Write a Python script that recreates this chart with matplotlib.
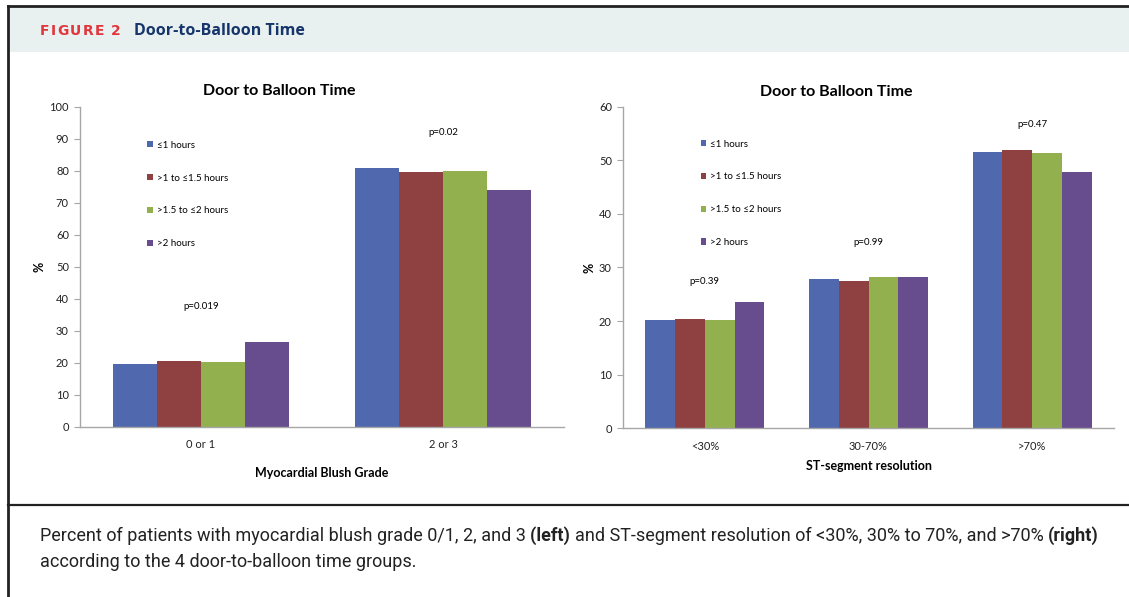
import matplotlib
matplotlib.use("Agg")
import matplotlib.pyplot as plt
import numpy as np
from matplotlib import font_manager
from matplotlib.lines import Line2D
from matplotlib.patches import Rectangle, Patch

plt.rcParams['font.family'] = ['Lato', 'DejaVu Sans']

groups = ['\u22641 hours', '>1 to \u22641.5 hours', '>1.5 to \u22642 hours', '>2 hours']
colors = ['#5068ad', '#8f4141', '#93b04f', '#674c8e']

blush_cats = ['0 or 1', '2 or 3']
blush_vals = [
    [19.6, 80.7],
    [20.5, 79.7],
    [20.1, 79.9],
    [26.5, 73.9],
]
blush_p = ['p=0.019', 'p=0.02']
blush_p_y = [37.4, 92.0]

st_cats = ['<30%', '30-70%', '>70%']
st_vals = [
    [20.2, 27.8, 51.6],
    [20.3, 27.5, 51.9],
    [20.2, 28.2, 51.4],
    [23.6, 28.2, 47.9],
]
st_p = ['p=0.39', 'p=0.99', 'p=0.47']
st_p_y = [27.3, 34.6, 56.6]

W, H = 1129, 597
fig = plt.figure(figsize=(W / 100, H / 100), dpi=100)
fig.patch.set_facecolor('white')
renderer = fig.canvas.get_renderer()


def px(x, y):
    # pixel coords (from top-left) to figure fraction
    return x / W, 1 - y / H


# header band and frame
fig.add_artist(Rectangle(px(8, 52), (W - 8) / W, 46 / H, transform=fig.transFigure,
                         facecolor='#e8f0f0', edgecolor='none', zorder=0))
for (x0, y0), (x1, y1), lw in [((8, 6), (W, 6), 2.0),
                               ((8, 6), (8, H), 2.0),
                               ((8, 505), (W, 505), 1.6)]:
    a, b = px(x0, y0)
    c, d = px(x1, y1)
    fig.add_artist(Line2D([a, c], [b, d], transform=fig.transFigure,
                          color='#222222', lw=lw, zorder=5))

# letter-spaced figure label
x = 40
for ch in 'FIGURE 2':
    if ch == ' ':
        x += 5
        continue
    t = fig.text(*px(x, 31), ch, color='#e2363c', fontsize=10, fontweight='bold',
                 family='DejaVu Sans', va='center', ha='left')
    x += t.get_window_extent(renderer).width + 1.4
fig.text(*px(134, 31), 'Door-to-Balloon Time', color='#16356b', fontsize=11.5,
         fontweight='bold', family=['Open Sans', 'DejaVu Sans'], va='center', ha='left')


def bar_panel(ax, cats, vals, ymax, pvals, p_y, title, title_x, xlabel, xlabelpad,
              leg_anchor):
    n = len(vals)
    x = np.arange(len(cats))
    w = 0.182
    for i, (v, c) in enumerate(zip(vals, colors)):
        ax.bar(x + (i - (n - 1) / 2) * w, v, width=w, color=c, edgecolor='none',
               label=groups[i])
    ax.set_xlim(-0.5, len(cats) - 0.5)
    ax.set_ylim(0, ymax)
    ax.set_yticks(np.arange(0, ymax + 1, 10))
    ax.set_xticks(x)
    ax.set_xticklabels(cats)
    for s in ['top', 'right']:
        ax.spines[s].set_visible(False)
    for s in ['left', 'bottom']:
        ax.spines[s].set_color('#a6a6a6')
        ax.spines[s].set_linewidth(1.0)
    ax.tick_params(axis='y', length=4, color='#a6a6a6', labelsize=8, pad=4,
                   labelcolor='#222222')
    ax.tick_params(axis='x', length=0, labelsize=8, pad=9, labelcolor='#222222')
    ax.set_title(title, fontsize=11.5, fontweight='bold', pad=8, x=title_x)
    ax.set_xlabel(xlabel, fontsize=9, fontweight='bold', labelpad=xlabelpad)
    ax.set_ylabel('%', fontsize=9, fontweight='bold', labelpad=2.5)
    for xi, p, yy in zip(x, pvals, p_y):
        ax.text(xi, yy, p, ha='center', va='center', fontsize=7)
    handles = [Patch(facecolor=c, edgecolor='none') for c in colors]
    ax.legend(handles, groups, loc='upper left', bbox_to_anchor=leg_anchor,
              frameon=False, fontsize=7, handlelength=0.6, handleheight=0.6,
              handletextpad=0.4, labelspacing=2.45, borderaxespad=0)


ax1 = fig.add_axes([80 / W, 1 - 426.7 / H, 484 / W, 320.2 / H])
bar_panel(ax1, blush_cats, blush_vals, 100, blush_p, blush_p_y,
          'Door to Balloon Time', 0.411, 'Myocardial Blush Grade', 12, (0.13, 0.905))

ax2 = fig.add_axes([623 / W, 1 - 428.3 / H, 491 / W, 321.6 / H])
bar_panel(ax2, st_cats, st_vals, 60, st_p, st_p_y,
          'Door to Balloon Time', 0.434, 'ST-segment resolution', 6, (0.15, 0.91))

# caption with bold runs
installed = {f.name for f in font_manager.fontManager.ttflist}
cap_font = next((f for f in ['Liberation Sans Narrow', 'Roboto', 'Open Sans']
                 if f in installed), 'DejaVu Sans')
lines = [
    [('Percent of patients with myocardial blush grade 0/1, 2, and 3 ', 'normal'),
     ('(left) ', 'bold'),
     ('and ST-segment resolution of <30%, 30% to 70%, and >70% ', 'normal'),
     ('(right)', 'bold')],
    [('according to the 4 door-to-balloon time groups.', 'normal')],
]
for row, y in zip(lines, [536, 562]):
    x = 40
    for s, wgt in row:
        t = fig.text(*px(x, y), s, fontsize=13.0, fontweight=wgt, family=cap_font,
                     va='center', ha='left', color='#222222')
        x += t.get_window_extent(renderer).width

fig.savefig('out.png', dpi=100)
